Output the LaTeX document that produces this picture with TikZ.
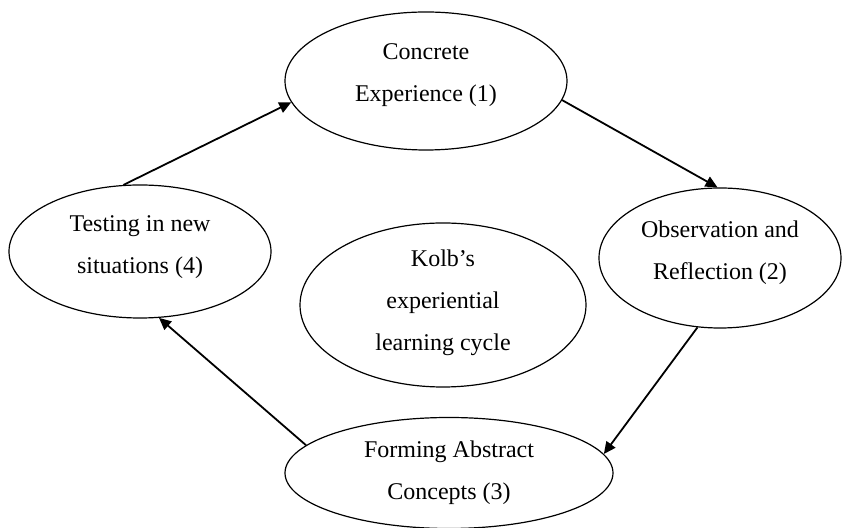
\documentclass[tikz,border=0pt]{standalone}
\usepackage{fontspec}
\setmainfont{Liberation Serif}
\usetikzlibrary{shapes.geometric,arrows.meta}

\begin{document}
\begin{tikzpicture}[x=0.5pt,y=-0.5pt]
\tikzstyle{every node}+=[inner sep=0pt]
\tikzstyle{stage}=[draw=black,line width=0.6pt,ellipse,align=center,font=\fontsize{12}{21}\selectfont]
\tikzstyle{flow}=[draw=black,line width=0.9pt,-{Triangle[length=6pt,width=5.5pt]}]
\useasboundingbox (0,0) rectangle (842,528);
\node [stage,minimum width=141pt,minimum height=69pt,text depth=8pt] (ce) at (426,81) {Concrete\\Experience (1)};
\node [stage,minimum width=121pt,minimum height=70pt,text depth=8pt] (or) at (720,258) {Observation and\\Reflection (2)};
\node [stage,minimum width=164pt,minimum height=55.5pt] (fa) at (449,473) {Forming Abstract\\Concepts (3)};
\node [stage,minimum width=131pt,minimum height=66.5pt,text depth=7pt] (te) at (140,251.5) {Testing in new\\situations (4)};
\node [stage,minimum width=143pt,minimum height=82pt,text depth=5pt] (kc) at (443,305) {Kolb’s\\experiential\\learning cycle};
\draw [flow] (te.104) -- (ce.189);
\draw [flow] (ce.352) -- (or.92);
\draw [flow] (or.252) -- (fa.7);
\draw [flow] (fa.169) -- (te.286);
\end{tikzpicture}
\end{document}
